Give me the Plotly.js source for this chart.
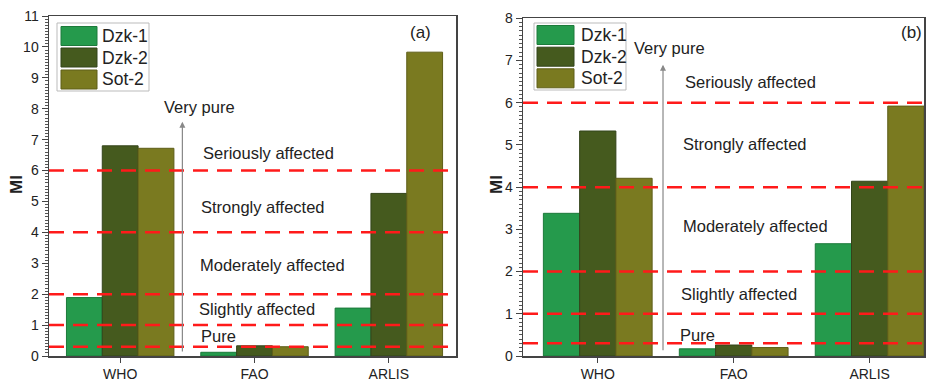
<!DOCTYPE html>
<html><head><meta charset="utf-8">
<script src="https://cdn.plot.ly/plotly-3.0.1.min.js"></script>
<style>html,body{margin:0;padding:0;background:#fff}#c{width:926px;height:381px}</style>
</head><body><div id="c"></div>
<script>
const categories = ["WHO", "FAO", "ARLIS"];
const seriesNames = ["Dzk-1", "Dzk-2", "Sot-2"];
const seriesColors = ["#259a4c", "#455a1e", "#7a7a20"];
const seriesLines = ["#1c7a3a", "#33441a", "#5e5e18"];
// panel (a)
const aDzk1 = [1.89, 0.12, 1.55];
const aDzk2 = [6.80, 0.33, 5.26];
const aSot2 = [6.72, 0.30, 9.83];
// panel (b)
const bDzk1 = [3.38, 0.17, 2.66];
const bDzk2 = [5.33, 0.26, 4.14];
const bSot2 = [4.21, 0.20, 5.92];
const thresholds = [0.3, 1, 2, 4, 6];
const classLabels = ["Pure", "Slightly affected", "Moderately affected", "Strongly affected", "Seriously affected"];

const W = 926, H = 381;
const px = x => x / W, py = y => 1 - y / H;
const FONT = "'Liberation Sans', Arial, sans-serif";

const aVals = [aDzk1, aDzk2, aSot2];
const bVals = [bDzk1, bDzk2, bSot2];
const traces = [];
[[aVals, "x", "y"], [bVals, "x2", "y2"]].forEach(([vals, xa, ya]) => {
  vals.forEach((v, i) => traces.push({
    type: "bar", x: categories, y: v, name: seriesNames[i], xaxis: xa, yaxis: ya,
    marker: {color: seriesColors[i], line: {color: seriesLines[i], width: 1}},
    showlegend: false, hoverinfo: "x+y+name"
  }));
});

const shapes = [], annotations = [];
[["x", "y"], ["x2", "y2"]].forEach(([xa, ya]) => {
  thresholds.forEach(t => shapes.push({
    type: "line", xref: xa + " domain", yref: ya, x0: 0, x1: 1, y0: t, y1: t,
    line: {color: "#ff1a1a", width: 2.5, dash: "15px,9px"}, layer: "above"
  }));
});
const aLabelPos = [[0.585, 0.65], [0.57, 1.51], [0.58, 2.94], [0.59, 4.82], [0.6, 6.58]];
const bLabelPos = [[0.59, 0.5], [0.6, 1.46], [0.61, 3.08], [0.615, 5.02], [0.63, 6.5]];
[[aLabelPos, "x", "y"], [bLabelPos, "x2", "y2"]].forEach(([pos, xa, ya]) => {
  classLabels.forEach((t, i) => annotations.push({
    text: t, x: pos[i][0], y: pos[i][1], xref: xa, yref: ya, xanchor: "left", yanchor: "middle",
    showarrow: false, font: {family: FONT, size: 16.5, color: "#222"}
  }));
});
[["x", "y", 0.463, 0.1, 7.58, 0.31, 8.07], ["x2", "y2", 0.48, 0.1, 6.9, 0.25, 7.29]].forEach(([xa, ya, ax, y0, y1, tx, ty]) => {
  annotations.push({x: ax, y: y1, ax: ax, ay: y0, xref: xa, yref: ya, axref: xa, ayref: ya,
    showarrow: true, arrowhead: 2, arrowsize: 1, arrowwidth: 1.2, arrowcolor: "#888", text: ""});
  annotations.push({text: "Very pure", x: tx, y: ty, xref: xa, yref: ya, xanchor: "left", yanchor: "middle",
    showarrow: false, font: {family: FONT, size: 16.5, color: "#222"}});
});
annotations.push({text: "(a)", x: px(420), y: py(32), xref: "paper", yref: "paper", showarrow: false,
  xanchor: "center", yanchor: "middle", font: {family: FONT, size: 17, color: "#222"}});
annotations.push({text: "(b)", x: px(911), y: py(33), xref: "paper", yref: "paper", showarrow: false,
  xanchor: "center", yanchor: "middle", font: {family: FONT, size: 17, color: "#222"}});
[[57, 149, 23, 91, 61, 97, 100, [36, 57.5, 79.5]], [534, 626, 23, 90, 537, 574, 579, [35, 56.7, 78.3]]].forEach(([bx0, bx1, by0, by1, sx0, sx1, tx, rows]) => {
  shapes.push({type: "rect", xref: "paper", yref: "paper", x0: px(bx0), x1: px(bx1), y0: py(by1), y1: py(by0),
    line: {color: "#bbb", width: 1}, fillcolor: "#fff", layer: "above"});
  seriesNames.forEach((n, i) => {
    shapes.push({type: "rect", xref: "paper", yref: "paper", x0: px(sx0), x1: px(sx1),
      y0: py(rows[i] + 9.5), y1: py(rows[i] - 9.5), fillcolor: seriesColors[i],
      line: {color: seriesLines[i], width: 1}, layer: "above"});
    annotations.push({text: n, x: px(tx), y: py(rows[i]), xref: "paper", yref: "paper", xanchor: "left",
      yanchor: "middle", showarrow: false, font: {family: FONT, size: 17.5, color: "#222"}});
  });
});
// y-axis titles
[[17, 185], [497, 185]].forEach(([x, y]) => annotations.push({text: "<b>MI</b>", x: px(x), y: py(y),
  xref: "paper", yref: "paper", xanchor: "center", yanchor: "middle", textangle: -90, showarrow: false,
  font: {family: FONT, size: 17, color: "#222"}}));

const xCommon = {type: "category", showline: true, mirror: true, linecolor: "#444", linewidth: 1.5,
  ticks: "outside", ticklen: 5, tickcolor: "#444", tickfont: {family: FONT, size: 14, color: "#222"},
  showgrid: false, zeroline: false, fixedrange: true};
const yCommon = {showline: true, mirror: true, linecolor: "#444", linewidth: 1.5, ticks: "outside", ticklen: 6,
  tickcolor: "#444", tickfont: {family: FONT, size: 14, color: "#222"}, showgrid: false, zeroline: false,
  minor: {ticks: "outside", ticklen: 3, dtick: 0.1, tickcolor: "#555", tickwidth: 1, showgrid: false}};

const layout = {
  width: W, height: H, margin: {l: 0, r: 0, t: 0, b: 0}, paper_bgcolor: "#fff", plot_bgcolor: "#fff",
  barmode: "group", bargap: 0.2, bargroupgap: 0, showlegend: false,
  xaxis: Object.assign({}, xCommon, {domain: [px(49), px(456)], range: [-0.53, 2.5], anchor: "y"}),
  yaxis: Object.assign({}, yCommon, {domain: [py(356), py(16)], range: [0, 11], dtick: 1, anchor: "x"}),
  xaxis2: Object.assign({}, xCommon, {domain: [px(523), px(924)], range: [-0.55, 2.4], anchor: "y2"}),
  yaxis2: Object.assign({}, yCommon, {domain: [py(356), py(18.3)], range: [0, 8], dtick: 1, anchor: "x2"}),
  shapes: shapes, annotations: annotations
};
Plotly.newPlot("c", traces, layout, {displayModeBar: false, staticPlot: true});
</script></body></html>
